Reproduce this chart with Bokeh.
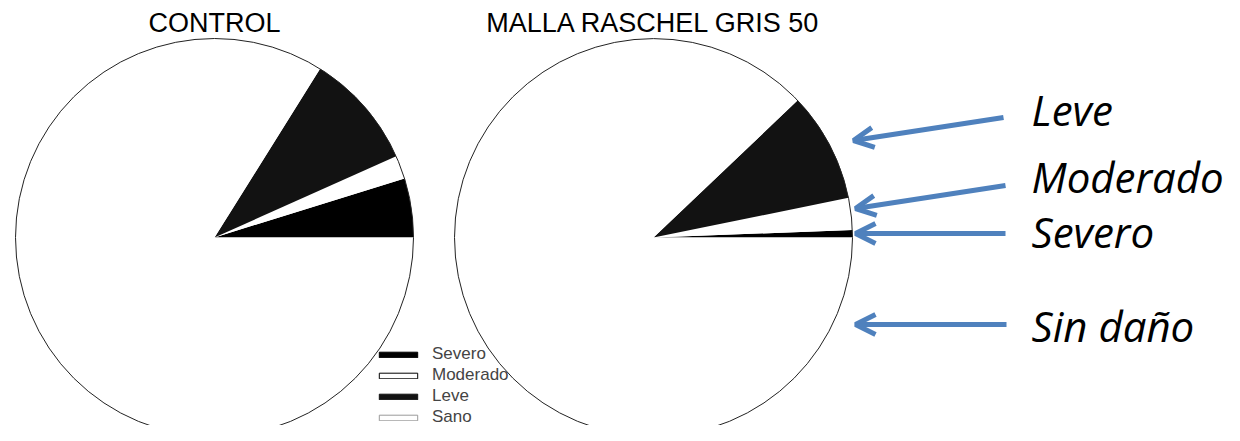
import numpy as np
from bokeh.plotting import figure
from bokeh.models import Range1d, Legend, LegendItem, Arrow, OpenHead, ColumnDataSource
from bokeh.core.properties import value
from bokeh.embed import file_html
from bokeh.resources import INLINE

# ---- data ----
panels = ["CONTROL", "MALLA RASCHEL GRIS 50"]
categories = ["Severo", "Moderado", "Leve", "Sano"]
control = [4.8, 1.9, 9.4, 83.9]
malla = [0.6, 2.6, 8.9, 87.9]
callout_labels = ["Leve", "Moderado", "Severo", "Sin daño"]

# ---- styles / layout ----
slice_colors = ["#000000", "#ffffff", "#121212", "#ffffff"]
legend_lines = ["#000000", "#000000", "#121212", "#9a9a9a"]
H = 441
W, HH = 1224, 425
centers_x = [214, 653]
center_y = H - 237
radius = 199
blue = "#4F81BD"

p = figure(width=W, height=HH, x_range=Range1d(0, W), y_range=Range1d(H - HH, H),
           output_backend="svg", toolbar_location=None, min_border=0,
           x_axis_location=None, y_axis_location=None)
p.grid.visible = False
p.outline_line_color = None
p.background_fill_color = "white"

for cx, vals, title in zip(centers_x, [control, malla], panels):
    v = np.array(vals, dtype=float)
    frac = v / v.sum() * 2 * np.pi
    ends = np.cumsum(frac)
    starts = ends - frac
    src = ColumnDataSource(dict(x=[cx] * len(v), y=[center_y] * len(v),
                                start=starts, end=ends, color=slice_colors))
    p.wedge(x="x", y="y", radius=radius, start_angle="start", end_angle="end",
            fill_color="color", line_color=None, source=src)
    p.circle(x=[cx], y=[center_y], radius=radius, fill_color=None,
             line_color="#222222", line_width=1)
    p.text(x=[cx], y=[H - 22], text=[title], text_align="center",
           text_baseline="alphabetic", text_font=value("Liberation Sans"),
           text_font_size="27px", text_color="black")

# legend with proxy renderers (outside visible range)
items = []
for cat, fc, lc in zip(categories, slice_colors, legend_lines):
    r = p.rect(x=[-1000], y=[-1000], width=1, height=1, fill_color=fc, line_color=lc, line_width=1)
    items.append(LegendItem(label=cat, renderers=[r]))
legend = Legend(items=items, location=(374, -2), padding=0, margin=0, spacing=1,
                label_height=20, glyph_width=48, glyph_height=7, label_standoff=10,
                label_text_font="Liberation Sans", label_text_font_size="17px",
                border_line_color=None, background_fill_alpha=0)
p.add_layout(legend)

# callout arrows and labels
arrow_src = ColumnDataSource(dict(
    x0=[1003, 1005, 1005, 1006], y0=[H - 117, H - 185, H - 233, H - 324],
    x1=[853, 855, 855, 855], y1=[H - 140, H - 208, H - 233, H - 324]))
p.add_layout(Arrow(x_start="x0", y_start="y0", x_end="x1", y_end="y1", source=arrow_src,
                   line_color=blue, line_width=5,
                   end=OpenHead(size=20, line_color=blue, line_width=5)))
p.text(x=[1031] * 4, y=[H - 109, H - 176, H - 231, H - 325], text=callout_labels,
       text_font=value("Open Sans"), text_font_style="italic", text_font_size="42px",
       text_baseline="alphabetic", text_color="black")

open("out.html", "w").write(file_html(p, INLINE))
